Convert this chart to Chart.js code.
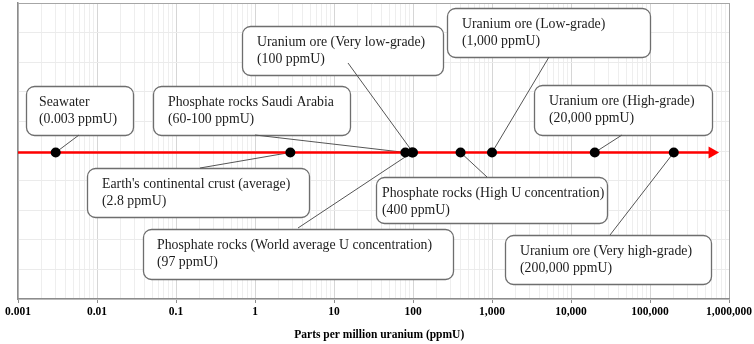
<!DOCTYPE html>
<html>
<head>
<meta charset="utf-8">
<script src="https://cdn.jsdelivr.net/npm/chart.js@4"></script>
<style>
  html, body { margin: 0; padding: 0; background: #ffffff; }
  #wrap { width: 754px; height: 344px; }
</style>
</head>
<body>
<div id="wrap"><canvas id="c" width="754" height="344"></canvas></div>
<script>
// ---------------- data ----------------
const majorTicks = [0.001, 0.01, 0.1, 1, 10, 100, 1000, 10000, 100000, 1000000];
const tickLabels = ['0.001', '0.01', '0.1', '1', '10', '100', '1,000', '10,000', '100,000', '1,000,000'];
const axisTitle = 'Parts per million uranium (ppmU)';

const lineLevel = 4.95;          // vertical level of the red arrow line
const arrowStart = 0.001;        // red line start (ppmU)
const arrowEnd = 610000;         // red line end / arrow head centre (ppmU)

const calloutTitles = [
  'Seawater',
  'Phosphate rocks Saudi Arabia',
  'Uranium ore (Very low-grade)',
  'Uranium ore (Low-grade)',
  'Uranium ore (High-grade)',
  "Earth's continental crust (average)",
  'Phosphate rocks (World average U concentration)',
  'Phosphate rocks (High U concentration)',
  'Uranium ore (Very high-grade)'
];
const calloutValuesText = [
  '(0.003 ppmU)',
  '(60-100 ppmU)',
  '(100 ppmU)',
  '(1,000 ppmU)',
  '(20,000 ppmU)',
  '(2.8 ppmU)',
  '(97 ppmU)',
  '(400 ppmU)',
  '(200,000 ppmU)'
];
const pointValues = [0.003, 80, 100, 1000, 20000, 2.8, 97, 400, 200000];

// ---------------- layout (callout boxes, px relative to chart area top-left) ----------------
// [dx, dy, width, height, leaderStartDx, leaderStartDy, textPadLeft]
const boxLayout = [
  [8, 83, 107, 49, 61, 132, 13],
  [135, 83, 197, 49, 237, 132, 15],
  [224, 23, 201, 49, 330, 60, 15],
  [429, 5, 203, 49, 531, 54, 15],
  [516, 82, 178, 50, 604, 132, 15],
  [69, 165, 222, 49, 182, 165, 15],
  [125, 226, 310, 50, 280, 225, 14],
  [358, 174, 231, 46, 469, 174, 6],
  [487, 232, 206, 49, 592, 232, 15]
];

const isPow10 = v => Math.abs(Math.log10(v) - Math.round(Math.log10(v))) < 1e-9;

function roundRect(ctx, x, y, w, h, r) {
  ctx.beginPath();
  ctx.moveTo(x + r, y);
  ctx.lineTo(x + w - r, y);
  ctx.arcTo(x + w, y, x + w, y + r, r);
  ctx.lineTo(x + w, y + h - r);
  ctx.arcTo(x + w, y + h, x + w - r, y + h, r);
  ctx.lineTo(x + r, y + h);
  ctx.arcTo(x, y + h, x, y + h - r, r);
  ctx.lineTo(x, y + r);
  ctx.arcTo(x, y, x + r, y, r);
  ctx.closePath();
}

const calloutPlugin = {
  id: 'callouts',
  beforeDatasetsDraw(chart) {
    const { ctx, chartArea, scales } = chart;
    const xs = scales.x, ys = scales.y;
    ctx.save();
    boxLayout.forEach((b, i) => {
      const x = chartArea.left + b[0], y = chartArea.top + b[1];
      roundRect(ctx, x + 0.5, y + 0.5, b[2], b[3], 8);
      ctx.fillStyle = '#ffffff';
      ctx.fill();
      ctx.lineWidth = 1.3;
      ctx.strokeStyle = '#6e6e6e';
      ctx.stroke();
      ctx.fillStyle = '#1c1c1c';
      ctx.font = '13.8px "Liberation Serif", "Times New Roman", serif';
      ctx.textBaseline = 'middle';
      ctx.textAlign = 'left';
      ctx.fillText(calloutTitles[i], x + b[6], y + 16.5);
      ctx.fillText(calloutValuesText[i], x + b[6], y + 33.5);
    });
    boxLayout.forEach((b, i) => {
      const sx = chartArea.left + b[4], sy = chartArea.top + b[5];
      const ex = xs.getPixelForValue(pointValues[i]);
      const ey = ys.getPixelForValue(lineLevel);
      ctx.beginPath();
      ctx.moveTo(sx, sy);
      ctx.lineTo(ex, ey);
      ctx.lineWidth = 1;
      ctx.strokeStyle = '#555555';
      ctx.stroke();
    });
    ctx.restore();
  }
};

const allTicks = [];
for (let k = -3; k <= 5; k++) {
  for (let m = 1; m <= 9; m++) allTicks.push(m * Math.pow(10, k));
}
allTicks.push(1000000);

new Chart(document.getElementById('c'), {
  type: 'scatter',
  data: {
    datasets: [
      {
        label: 'points',
        order: 0,
        data: pointValues.map(v => ({ x: v, y: lineLevel })),
        showLine: false,
        pointRadius: 5,
        pointHoverRadius: 5,
        pointBackgroundColor: '#000000',
        pointBorderColor: '#000000',
        pointBorderWidth: 0
      },
      {
        label: 'arrow',
        order: 1,
        data: [{ x: arrowStart, y: lineLevel }, { x: arrowEnd, y: lineLevel }],
        showLine: true,
        borderColor: '#ff0000',
        borderWidth: 2.5,
        pointStyle: 'triangle',
        rotation: 90,
        pointRadius: ctx => ctx.dataIndex === 1 ? 7 : 0,
        pointHoverRadius: ctx => ctx.dataIndex === 1 ? 7 : 0,
        pointBackgroundColor: '#ff0000',
        pointBorderColor: '#ff0000',
        pointBorderWidth: 0
      }
    ]
  },
  options: {
    responsive: false,
    animation: false,
    devicePixelRatio: 1,
    layout: { autoPadding: false, padding: { left: 0, right: 25, top: 3, bottom: 0 } },
    plugins: { legend: { display: false }, tooltip: { enabled: false } },
    scales: {
      x: {
        type: 'logarithmic',
        min: 0.001,
        max: 1000000,
        afterBuildTicks: scale => {
          scale.ticks = allTicks.map(v => ({ value: v, major: isPow10(v) }));
        },
        afterFit: scale => { scale.height = 45; },
        ticks: {
          autoSkip: false,
          maxRotation: 0,
          minRotation: 0,
          padding: 2,
          color: '#000000',
          font: { family: '"Liberation Serif", "Times New Roman", serif', size: 11.5, weight: 'bold' },
          callback: function (value) {
            if (!isPow10(value)) return '';
            const idx = majorTicks.findIndex(t => Math.abs(Math.log10(t) - Math.log10(value)) < 1e-9);
            return idx >= 0 ? tickLabels[idx] : '';
          }
        },
        grid: {
          color: ctx => {
            const v = ctx.tick && ctx.tick.value;
            if (v === undefined) return '#eeeeee';
            if (Math.abs(v - 1000000) < 1) return '#a6a6a6';
            return isPow10(v) ? '#d6d6d6' : '#eeeeee';
          },
          tickColor: ctx => (ctx.tick && isPow10(ctx.tick.value)) ? '#8c8c8c' : 'rgba(0,0,0,0)',
          tickLength: 4,
          lineWidth: 1
        },
        border: { color: '#8c8c8c', width: 1.5 },
        title: {
          display: true,
          text: '\u00a0\u00a0\u00a0\u00a0' + axisTitle,
          color: '#000000',
          font: { family: '"Liberation Serif", "Times New Roman", serif', size: 11.5, weight: 'bold' },
          padding: { top: 0, bottom: 2 }
        }
      },
      y: {
        type: 'linear',
        min: 0,
        max: 10,
        afterFit: scale => { scale.width = 18; },
        ticks: { display: false, stepSize: 1 },
        grid: {
          drawTicks: false,
          color: ctx => (ctx.tick && ctx.tick.value === 10) ? '#a6a6a6' : '#ebebeb',
          lineWidth: 1
        },
        border: { color: '#8c8c8c', width: 1.5 }
      }
    }
  },
  plugins: [calloutPlugin]
});
</script>
</body>
</html>
